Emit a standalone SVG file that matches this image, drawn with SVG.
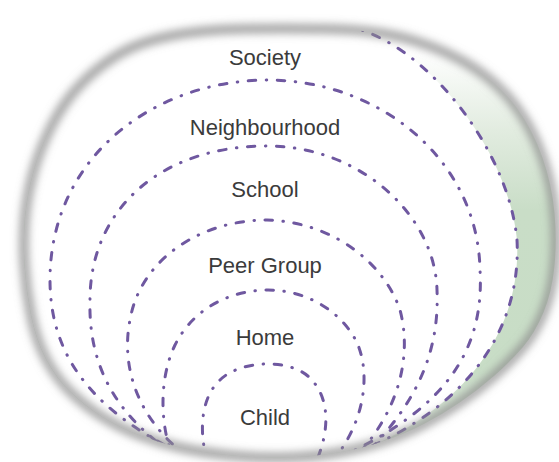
<svg xmlns="http://www.w3.org/2000/svg" width="559" height="462" viewBox="0 0 559 462">
  <style>
    .ring { fill: none; stroke: #6f58a0; stroke-width: 3; stroke-linecap: round; stroke-dasharray: 7.5 10.5 0.5 10.5; }
    .label { font-family: "Liberation Sans", Arial, sans-serif; font-size: 22px; fill: #3b3b3b; text-anchor: middle; }
  </style>
  <defs>
    <path id="bowlPath" d="M 330,29 Q 380,30 415,41 Q 450,52 475,68.5 Q 500,85 516.5,107.5 Q 533,130 542.5,157.5 Q 552,185 554.5,212.5 Q 557,240 554.5,266 Q 552,292 543.5,312.5 Q 535,333 522.5,347.5 Q 510,362 494,376 Q 478,390 460.5,402 Q 443,414 424,424 Q 405,434 382.5,441.5 Q 360,449 335,453 Q 310,457 282.5,457.5 Q 255,458 227.5,455 Q 200,452 180,447.5 Q 160,443 140,435.5 Q 120,428 102.5,417 Q 85,406 70.5,392 Q 56,378 46,359 Q 36,340 31,315 Q 26,290 24.5,265 Q 23,240 25,217.5 Q 27,195 33.5,171.5 Q 40,148 52.5,124 Q 65,100 82.5,82.5 Q 100,65 120,53.5 Q 140,42 170,36 Q 200,30 240,29 Q 280,28 330,29 Z"/>
    <clipPath id="bowlClip"><use href="#bowlPath"/></clipPath>
    <linearGradient id="greenFade" gradientUnits="userSpaceOnUse" x1="0" y1="50" x2="0" y2="450">
      <stop offset="0" stop-color="#ffffff"/>
      <stop offset="0.2" stop-color="#e2ece0"/>
      <stop offset="0.4" stop-color="#c9ddc7"/>
      <stop offset="0.8" stop-color="#c8ddc6"/>
      <stop offset="1" stop-color="#e4eee3"/>
    </linearGradient>
    <filter id="soft" x="-10%" y="-10%" width="120%" height="120%">
      <feGaussianBlur stdDeviation="4.5"/>
    </filter>
  </defs>

  <rect x="0" y="0" width="559" height="462" fill="#ffffff"/>

  <!-- bowl with green tint on the right -->
  <use href="#bowlPath" fill="url(#greenFade)"/>
  <g clip-path="url(#bowlClip)">
    <path d="M 345,26 C 420,38 508,145 517,240 C 522,335 460,420 330,462 L 330,480 L -10,480 L -10,-10 L 345,-10 Z" fill="#ffffff"/>
  </g>

  <g id="rings" clip-path="url(#bowlClip)">
    <g id="society">
      <path class="ring" d="M 345,26 C 420,38 508,145 517,240 C 522,335 460,420 330,462"/>
    </g>
    <g id="neighbourhood">
      <path class="ring" d="M 190,458 C 110,420 50,370 50,280 C 50,160 150,81 267,80 C 380,80 478,160 480,270 C 485,355 440,410 345,455"/>
    </g>
    <g id="school">
      <path class="ring" d="M 180,458 C 120,420 88,370 90,300 C 90,210 160,146 267,146 C 360,146 435,215 437,290 C 440,360 410,410 362,458"/>
    </g>
    <g id="peer-group">
      <path class="ring" d="M 195,462 C 140,425 120,370 130,320 C 140,260 200,220 267,220 C 335,222 385,265 400,310 C 412,355 400,410 355,458"/>
    </g>
    <g id="home">
      <path class="ring" d="M 175,462 C 160,430 158,380 175,345 C 195,305 235,290 268,290 C 310,290 345,315 358,345 C 370,375 365,420 335,458"/>
    </g>
    <g id="child">
      <path class="ring" d="M 208,462 C 200,440 198,400 220,380 C 240,360 290,358 310,378 C 330,398 330,430 316,462"/>
    </g>
  </g>

  <!-- soft gray rim -->
  <use href="#bowlPath" fill="none" stroke="#8e8e8e" stroke-width="9" stroke-opacity="0.85" filter="url(#soft)"/>

  <g id="labels">
    <text class="label" x="265" y="65">Society</text>
    <text class="label" x="265" y="135">Neighbourhood</text>
    <text class="label" x="265" y="197">School</text>
    <text class="label" x="265" y="273">Peer Group</text>
    <text class="label" x="265" y="345">Home</text>
    <text class="label" x="265" y="425">Child</text>
  </g>
</svg>
